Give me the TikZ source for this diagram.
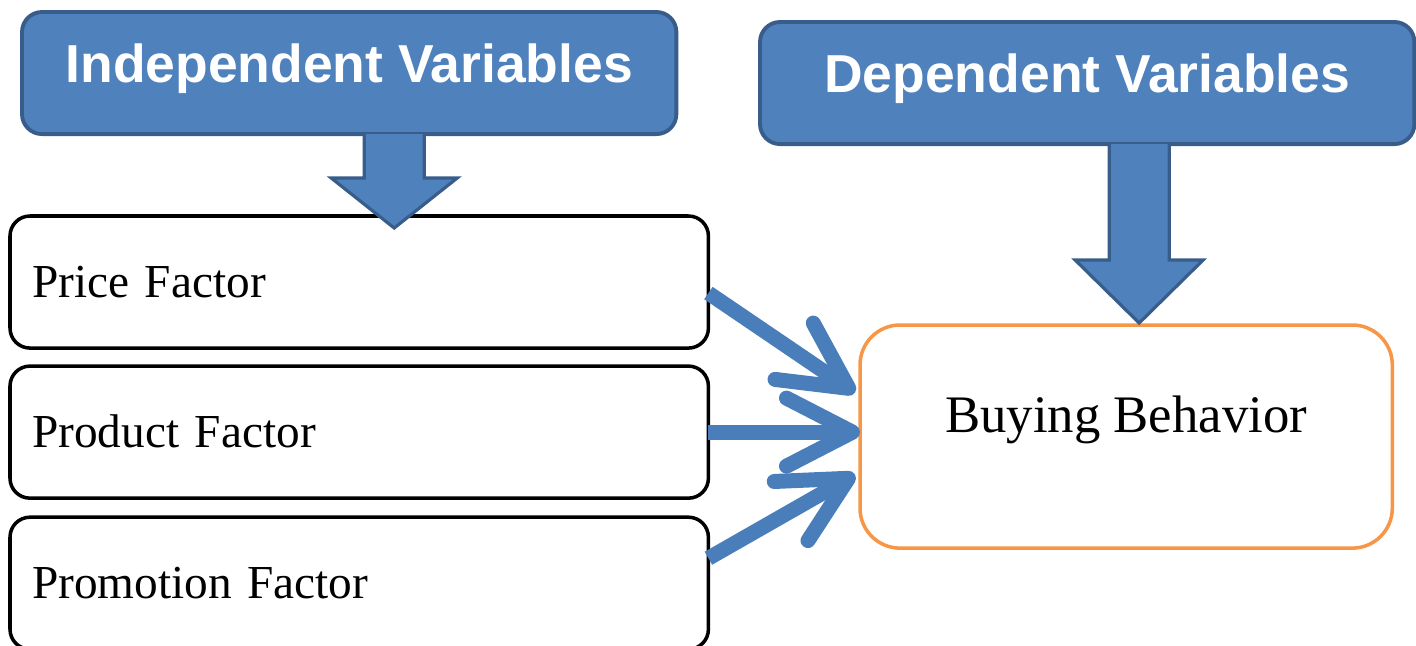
\documentclass[tikz,border=0pt]{standalone}
\usepackage{fontspec}
\setmainfont{Liberation Serif}
\newfontfamily\headfont{Liberation Sans}
\usetikzlibrary{positioning,calc,arrows.meta}
\definecolor{boxblue}{HTML}{4F81BD}
\definecolor{boxedge}{HTML}{385D8A}
\definecolor{linkblue}{HTML}{4A7EBB}
\definecolor{outorange}{HTML}{F79646}

\tikzset{
  header/.style={draw=boxedge, fill=boxblue, line width=1.1pt, rounded corners=0.2cm,
    minimum width=6.54cm, inner sep=0pt, outer sep=0pt, text height=0.7cm, text depth=0.52cm,
    font=\headfont\bfseries\fontsize{15.2}{18}\selectfont, text=white},
  factor/.style={draw=black, line width=1pt, rounded corners=0.2cm, inner xsep=0.22cm,
    inner ysep=0pt, outer sep=0pt, text width=6.54cm, align=left, text height=0.81cm,
    text depth=0.51cm, font=\fontsize{13.45}{16}\selectfont},
  result/.style={draw=outorange, line width=1pt, rounded corners=0.4cm, minimum width=5.32cm,
    inner sep=0pt, outer sep=0pt, text height=1.07cm, text depth=1.16cm,
    font=\fontsize{15}{18}\selectfont},
  link/.style={draw=linkblue, line width=0.15cm, -{Straight Barb[length=6.6mm,width=6.8mm,round]}},
  fat/.style={draw=boxedge, fill=boxblue, line width=0.9pt, line join=miter}
}

% block arrow pointing down: top, tip, half head width, head length
\newcommand{\fatdown}[4]{%
  \draw[fat] ($(#1)+(-30,0)$) -- ($(#2)+(-30,-#4)$) -- ($(#2)+(-#3,-#4)$) -- (#2)
    -- ($(#2)+(#3,-#4)$) -- ($(#2)+(30,-#4)$) -- ($(#1)+(30,0)$);}

\begin{document}
\begin{tikzpicture}[x=0.01cm, y=-0.01cm]
\useasboundingbox (0,0) rectangle (1416,645);

\node[header, anchor=north west] (indep) at (22,12) {Independent Variables};
\node[header, anchor=north west] (dep) at (760,22) {Dependent Variables};

\node[factor, anchor=north west] (price) at (10,216) {Price Factor};
\node[factor, below=0.18cm of price] (product) {Product Factor};
\node[factor, below=0.19cm of product] (promo) {Promotion Factor};

\node[result, anchor=north west] (buying) at (860,325) {Buying Behavior};

% block arrows
\coordinate (t1) at ($(indep.south)+(45,0)$);
\coordinate (h1) at ($(price.north)+(35,12)$);
\fatdown{t1}{h1}{63}{50}
\coordinate (t2) at ($(dep.south)+(52,0)$);
\coordinate (h2) at ($(buying.north)+(13,-2)$);
\fatdown{t2}{h2}{64}{63}

% factors to behavior
\draw[link] ($(price.east)+(0,11)$) -- ($(buying.west)+(-5,-44)$);
\draw[link] (product.east) -- (product.east -| buying.west);
\draw[link] ($(promo.east)+(0,-25)$) -- ($(buying.west)+(-5,38)$);
\end{tikzpicture}
\end{document}
